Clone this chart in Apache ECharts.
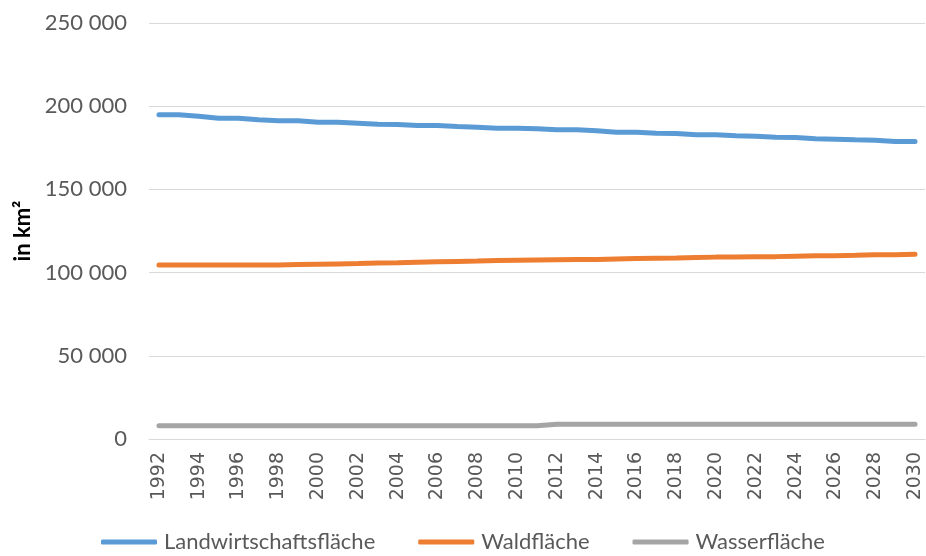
<!DOCTYPE html>
<html>
<head>
<meta charset="utf-8">
<script src="https://cdn.jsdelivr.net/npm/echarts@6/dist/echarts.min.js"></script>
<style>html,body{margin:0;padding:0;background:#fff}#c{width:926px;height:556px}</style>
</head>
<body>
<div id="c"></div>
<script>
const years = [];
for (let y = 1992; y <= 2030; y++) years.push(String(y));

const landwirtschaft = [194800,194800,193900,192800,192800,191800,191200,191200,190400,190400,
  189800,189200,189000,188400,188400,187800,187400,186800,186800,186400,
  185800,185800,185200,184400,184400,183800,183600,182800,182800,182200,
  182000,181400,181200,180400,180200,179800,179600,178800,178800];
const wald = [104600,104600,104600,104600,104600,104600,104600,104800,105000,105200,
  105400,105700,105900,106200,106500,106700,106900,107200,107400,107600,
  107700,107800,107900,108200,108400,108600,108800,109100,109300,109400,
  109500,109600,109900,110100,110200,110400,110700,110800,111000];
const wasser = [8000,8000,8000,8000,8000,8000,8000,8000,8000,8000,
  8000,8000,8000,8000,8000,8000,8000,8000,8000,8000,
  8800,8800,8800,8800,8800,8800,8800,8800,8800,8800,
  8800,8800,8800,8800,8800,8800,8800,8800,8800];
const seriesNames = ['Landwirtschaftsfläche', 'Waldfläche', 'Wasserfläche'];
const colors = ['#5B9BD5', '#ED7D31', '#A5A5A5'];

const fmt = v => String(v).replace(/\B(?=(\d{3})+(?!\d))/g, ' ');
const font = 'Lato, "Open Sans", sans-serif';

const chart = echarts.init(document.getElementById('c'), null, {renderer: 'canvas'});
chart.setOption({
  animation: false,
  backgroundColor: '#fff',
  color: colors,
  grid: {left: 149, right: 1, top: 23, bottom: 117, containLabel: false},
  legend: {
    top: 531,
    left: 'center',
    padding: 0,
    itemWidth: 56,
    itemHeight: 5,
    itemGap: 43,
    icon: 'roundRect',
    textStyle: {color: '#595959', fontSize: 22, fontFamily: font, padding: [0, 0, 0, 2]},
    data: seriesNames
  },
  xAxis: {
    type: 'category',
    data: years,
    boundaryGap: true,
    axisLine: {show: true, lineStyle: {color: '#D9D9D9', width: 1}},
    axisTick: {show: false},
    axisLabel: {
      interval: 1,
      rotate: 90,
      color: '#595959',
      fontSize: 19,
      fontFamily: '"DejaVu Sans", sans-serif',
      margin: 13
    }
  },
  yAxis: {
    type: 'value',
    min: 0,
    max: 250000,
    interval: 50000,
    name: 'in km²',
    nameLocation: 'middle',
    nameGap: 112,
    nameRotate: 90,
    nameTextStyle: {color: '#000', fontSize: 22, fontWeight: 'bold', fontFamily: font},
    axisLine: {show: false},
    axisTick: {show: false},
    splitLine: {lineStyle: {color: '#D9D9D9', width: 1}},
    axisLabel: {
      formatter: fmt,
      color: '#595959',
      fontSize: 22,
      fontFamily: font,
      margin: 22
    }
  },
  series: [
    {name: seriesNames[0], type: 'line', data: landwirtschaft, showSymbol: false, lineStyle: {width: 5, cap: 'round'}},
    {name: seriesNames[1], type: 'line', data: wald, showSymbol: false, lineStyle: {width: 5, cap: 'round'}},
    {name: seriesNames[2], type: 'line', data: wasser, showSymbol: false, lineStyle: {width: 5, cap: 'round'}}
  ]
});
</script>
</body>
</html>
